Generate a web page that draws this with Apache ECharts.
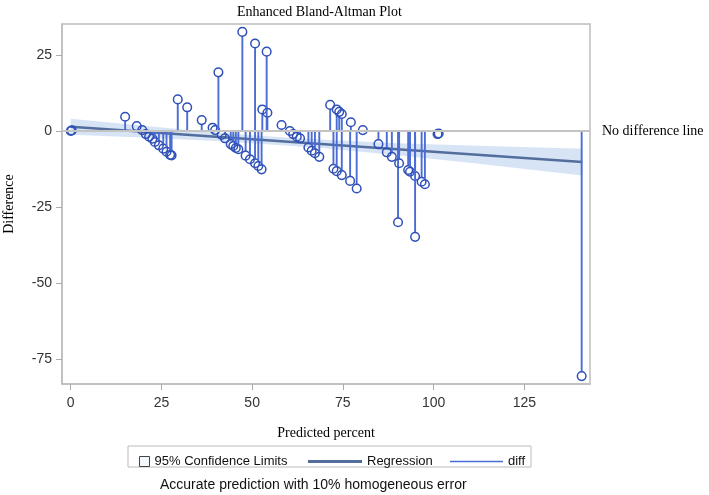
<!DOCTYPE html>
<html>
<head>
<meta charset="utf-8">
<script src="https://cdn.jsdelivr.net/npm/echarts@6/dist/echarts.min.js"></script>
<style>
  html, body { margin: 0; padding: 0; background: #fff; }
  #chart { width: 709px; height: 495px; }
</style>
</head>
<body>
<div id="chart"></div>
<script>
// predicted percent / difference pairs (diff stems)
var predicted = [0, 0.3, 15.0, 18.2, 19.7, 20.7, 21.6, 22.5, 23.2, 24.3, 25.5, 26.4, 27.4, 27.8,
  29.5, 32.1, 36.1, 39.1, 39.8, 40.7, 41.6, 42.5, 44.1, 44.8, 45.5, 46.2, 47.3, 48.2, 49.4,
  50.8, 50.8, 51.7, 52.6, 52.8, 54.0, 54.2, 58.1, 60.4, 61.3, 62.3, 63.2, 65.5, 66.4, 67.3,
  68.5, 71.5, 72.4, 73.3, 73.3, 74.0, 74.7, 74.7, 77.0, 77.2, 78.8, 80.5, 84.8, 87.1, 88.5,
  90.2, 90.5, 93.0, 93.5, 94.9, 94.9, 96.7, 97.6, 101.1, 101.4, 140.8];
var difference = [0, 0.2, 4.7, 1.6, 0.3, -1.0, -1.9, -2.5, -3.6, -4.7, -5.8, -6.8, -7.9, -8.0,
  10.4, 7.8, 3.6, 1.1, 0.3, 19.3, -1.3, -2.4, -4.3, -4.9, -5.6, -6.0, 32.6, -8.1, -9.3,
  28.8, -10.6, -11.5, -12.6, 7.1, 26.1, 6.0, 2.0, 0, -1.0, -1.9, -2.4, -5.4, -6.5, -7.3,
  -8.5, 8.6, -12.4, 7.1, -13.2, 6.3, 5.6, -14.5, -16.4, 2.9, -18.9, 0.3, -4.3, -7.0, -8.5,
  -30.0, -10.6, -12.8, -13.4, -14.8, -34.8, -16.7, -17.5, -1.0, -0.8, -80.6];

// regression line and 95% confidence limits
var regX = [0, 141];
var regY = [1.4, -10.2];
var bandX = [0, 20, 40, 55, 70, 90, 110, 141];
var bandLo = [-1.2, -2.1, -3.3, -4.4, -5.7, -8.0, -10.4, -14.6];
var bandHi = [4.0, 1.7, -0.5, -1.8, -2.9, -4.0, -4.8, -5.8];

var xTicks = [0, 25, 50, 75, 100, 125];
var yTicks = [-75, -50, -25, 0, 25];

var chart = echarts.init(document.getElementById('chart'));

var serif = '"Liberation Serif", "DejaVu Serif", serif';
var sans = '"Liberation Sans", Arial, sans-serif';

var stemData = predicted.map(function (x, i) { return [x, difference[i]]; });
var bandData = bandX.map(function (x, i) { return [x, bandLo[i], bandHi[i]]; });

var option = {
  animation: false,
  backgroundColor: '#fff',
  title: [
    {
      text: 'Enhanced Bland-Altman Plot',
      left: 232, top: 0,
      textStyle: { fontFamily: serif, fontSize: 14, fontWeight: 'normal', color: '#000' }
    },
    {
      text: 'Accurate prediction with 10% homogeneous error',
      left: 155, top: 473,
      textStyle: { fontFamily: sans, fontSize: 14, fontWeight: 'normal', color: '#111' }
    }
  ],
  grid: {
    left: 62, right: 119, top: 24, bottom: 111,
    outerBoundsMode: 'none',
    show: true, borderColor: '#bdbdbd', borderWidth: 1.5
  },
  xAxis: {
    type: 'value',
    min: -2.4, max: 143.1,
    name: 'Predicted percent',
    nameLocation: 'middle',
    nameGap: 42,
    nameTextStyle: { fontFamily: serif, fontSize: 14, color: '#000' },
    splitLine: { show: false },
    axisLine: { show: true, onZero: false, lineStyle: { color: '#bdbdbd', width: 1.5 } },
    axisTick: { show: true, length: 6, customValues: xTicks, lineStyle: { color: '#aaa' } },
    axisLabel: { customValues: xTicks, margin: 12, fontFamily: sans, fontSize: 14, color: '#333' }
  },
  yAxis: {
    type: 'value',
    min: -83.2, max: 35.2,
    name: 'Difference',
    nameLocation: 'middle',
    nameGap: 46,
    nameTextStyle: { fontFamily: serif, fontSize: 14, color: '#000' },
    splitLine: { show: false },
    axisLine: { show: true, onZero: false, lineStyle: { color: '#bdbdbd', width: 1.5 } },
    axisTick: { show: true, length: 6, customValues: yTicks, lineStyle: { color: '#aaa' } },
    axisLabel: { customValues: yTicks, margin: 10, fontFamily: sans, fontSize: 14, color: '#333' }
  },
  legend: [
    {
      data: ['95% Confidence Limits'],
      left: 134, top: 450,
      icon: 'rect', itemWidth: 10, itemHeight: 10,
      itemStyle: { color: '#f4f7fc', borderColor: '#444', borderWidth: 1 },
      textStyle: { fontFamily: sans, fontSize: 13, color: '#111' }
    },
    {
      data: ['Regression'],
      left: 303, top: 450,
      icon: 'rect', itemWidth: 54, itemHeight: 3,
      textStyle: { fontFamily: sans, fontSize: 13, color: '#111' }
    },
    {
      data: ['diff'],
      left: 445, top: 450,
      icon: 'rect', itemWidth: 53, itemHeight: 1.5,
      textStyle: { fontFamily: sans, fontSize: 13, color: '#111' }
    }
  ],
  graphic: [
    {
      type: 'rect',
      shape: { x: 128, y: 446, width: 403, height: 21 },
      style: { fill: 'none', stroke: '#bbb', lineWidth: 1 },
      silent: true
    }
  ],
  series: [
    {
      name: '95% Confidence Limits',
      type: 'custom',
      z: 1,
      itemStyle: { color: '#d7e4f5' },
      data: bandData,
      encode: { x: 0, y: [1, 2] },
      renderItem: function (params, api) {
        if (params.dataIndex !== 0) return null;
        var pts = [];
        for (var i = 0; i < bandX.length; i++) pts.push(api.coord([bandX[i], bandHi[i]]));
        for (var j = bandX.length - 1; j >= 0; j--) pts.push(api.coord([bandX[j], bandLo[j]]));
        return { type: 'polygon', shape: { points: pts }, style: { fill: '#d7e4f5' } };
      },
      markLine: {
        silent: true,
        symbol: ['none', 'none'],
        lineStyle: { color: '#c4c4c4', width: 2, type: 'solid' },
        label: {
          show: true, position: 'end', distance: 12,
          formatter: 'No difference line',
          fontFamily: serif, fontSize: 14, color: '#000'
        },
        data: [{ yAxis: 0 }]
      }
    },
    {
      name: 'Regression',
      type: 'line',
      z: 3,
      symbol: 'none',
      color: '#536d9c',
      lineStyle: { color: '#536d9c', width: 2.5 },
      data: regX.map(function (x, i) { return [x, regY[i]]; })
    },
    {
      name: 'diff',
      type: 'custom',
      z: 4,
      itemStyle: { color: '#4a6cd4' },
      data: stemData,
      encode: { x: 0, y: 1 },
      renderItem: function (params, api) {
        var p = api.coord([api.value(0), api.value(1)]);
        var z = api.coord([api.value(0), 0]);
        var r = 4.3;
        var children = [];
        if (Math.abs(p[1] - z[1]) > r) {
          var end = p[1] < z[1] ? p[1] + r : p[1] - r;
          children.push({
            type: 'line',
            shape: { x1: z[0], y1: z[1], x2: p[0], y2: end },
            style: { stroke: '#4a6cd4', lineWidth: 1.9 }
          });
        }
        children.push({
          type: 'circle',
          shape: { cx: p[0], cy: p[1], r: r },
          style: { fill: 'none', stroke: '#2f50b8', lineWidth: 1.5 }
        });
        return { type: 'group', children: children };
      }
    }
  ]
};

chart.setOption(option);
</script>
</body>
</html>
